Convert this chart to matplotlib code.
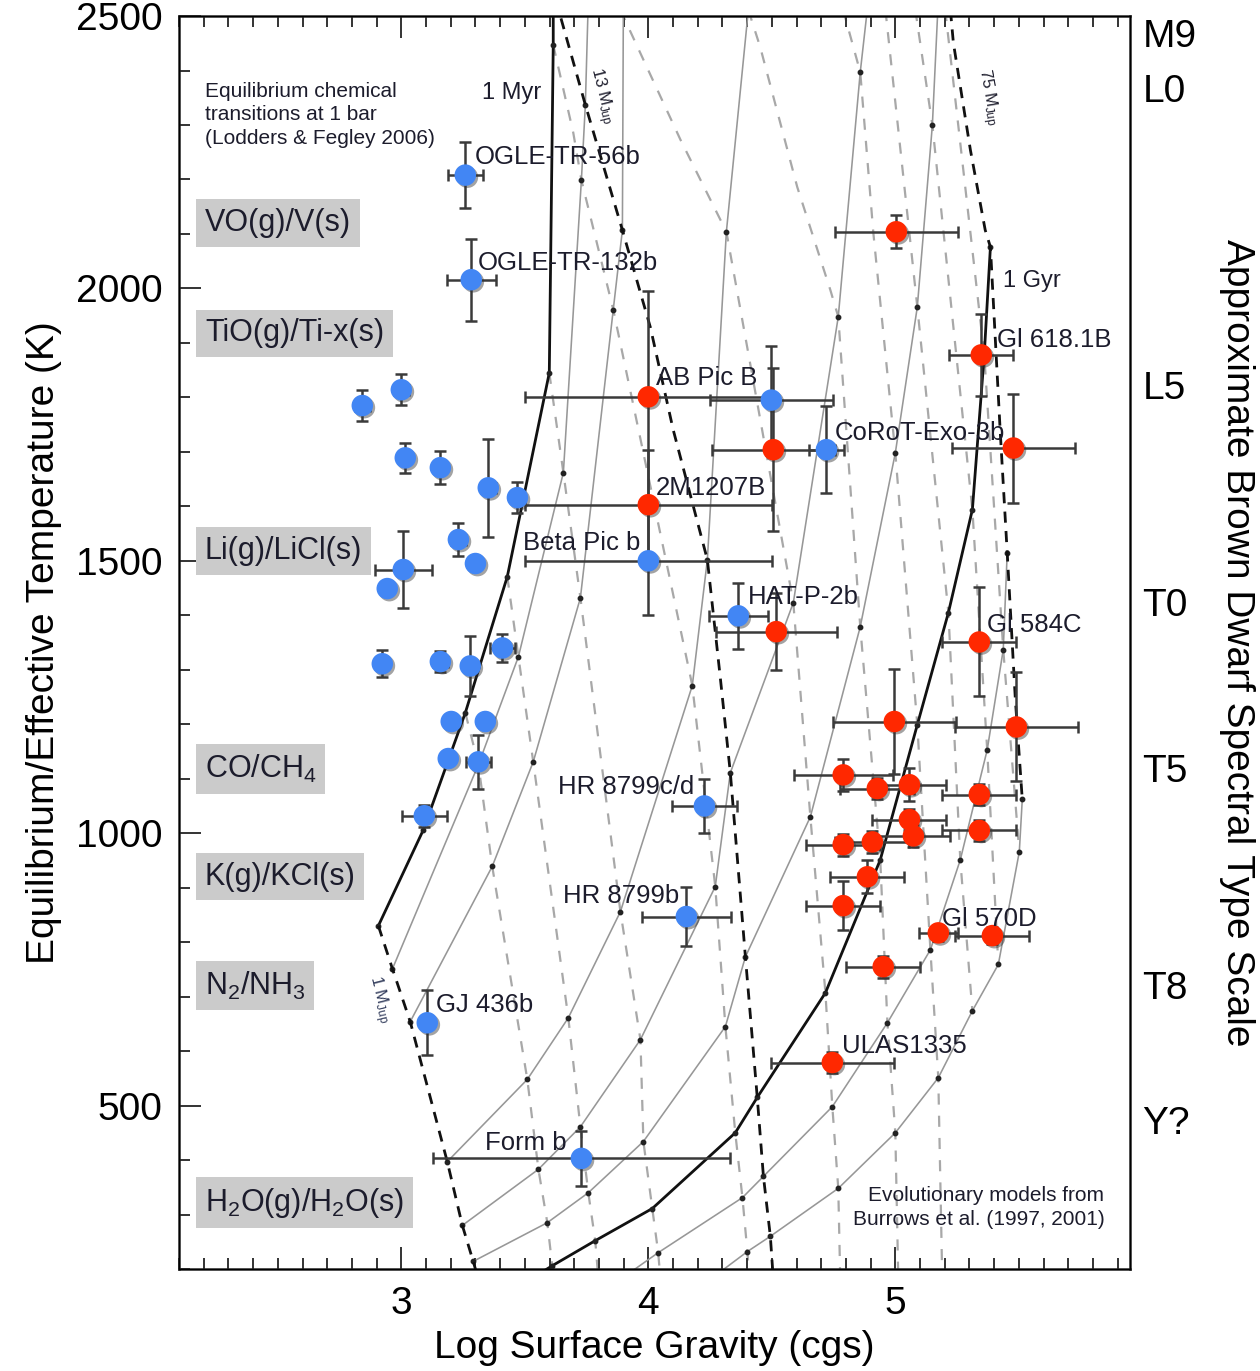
import numpy as np
import matplotlib.pyplot as plt
from matplotlib import patheffects as pe
from matplotlib.ticker import MultipleLocator

plt.rcParams['font.family'] = ['Liberation Sans', 'DejaVu Sans']
plt.rcParams['mathtext.fontset'] = 'custom'
plt.rcParams['mathtext.rm'] = 'Liberation Sans'
plt.rcParams['mathtext.it'] = 'Liberation Sans:italic'

# ---------------- evolutionary grid (log g, Teff) ----------------
# isochrones, youngest (1 Myr) to oldest; vertices sit on the mass tracks
iso_1myr = [(3.615, 2530), (3.615, 2447), (3.599, 1845), (3.429, 1471), (3.259, 1221), (3.089, 1006), (2.907, 830)]
iso_b = [(3.757, 2530), (3.745, 2337), (3.729, 2199), (3.656, 1662), (3.474, 1324), (3.312, 1126), (2.964, 751)]
iso_c = [(3.899, 2530), (3.895, 2107), (3.858, 1961), (3.725, 1432), (3.534, 1131), (3.368, 939), (3.036, 654)]
iso_d = [(4.409, 2530), (4.316, 2104), (4.239, 1502), (4.178, 1271), (3.887, 856), (3.676, 661), (3.510, 548),
         (3.186, 397)]
iso_e = [(4.891, 2530), (4.858, 2397), (4.769, 1948), (4.587, 1423), (4.332, 1111), (4.271, 902), (3.968, 621),
         (3.725, 461), (3.555, 383), (3.247, 280)]
iso_f = [(5.174, 2530), (5.150, 2300), (5.089, 1966), (5.000, 1698), (4.858, 1379), (4.656, 1030), (4.393, 773),
         (4.312, 645), (3.980, 434), (3.757, 340), (3.591, 285), (3.291, 214)]
iso_1gyr = [(5.385, 2076), (5.360, 1878), (5.312, 1594), (5.215, 1405), (5.089, 1199), (4.939, 951), (4.717, 707),
            (4.441, 515), (4.352, 450), (4.016, 311), (3.785, 252), (3.611, 206), (3.522, 181)]
iso_g = [(5.453, 1515), (5.437, 1337), (5.372, 1153), (5.263, 951), (5.142, 786), (4.968, 652), (4.745, 498),
         (4.466, 370), (4.381, 331), (4.040, 230), (3.887, 181)]
iso_h = [(5.514, 1062), (5.502, 966), (5.417, 759), (5.312, 674), (5.174, 551), (5.000, 450), (4.769, 348),
         (4.494, 260), (4.401, 232), (4.251, 181)]

# mass tracks (bold: 1, 13 and 75 M_Jup)
trk_1mj = [(2.907, 830), (2.964, 751), (3.036, 654), (3.186, 397), (3.247, 280), (3.291, 214), (3.312, 181)]
trk_13mj = [(3.625, 2530), (3.745, 2337), (3.895, 2107), (4.008, 1929), (4.101, 1740), (4.239, 1502), (4.291, 1287),
            (4.332, 1111), (4.393, 773), (4.441, 515), (4.466, 370), (4.494, 260), (4.506, 181)]
trk_75mj = [(5.223, 2511), (5.235, 2451), (5.304, 2254), (5.364, 2107), (5.385, 2076), (5.425, 1735), (5.453, 1515),
            (5.486, 1245), (5.514, 1062)]
trk_gray = [
    [(3.259, 1221), (3.312, 1126), (3.368, 939), (3.510, 548), (3.555, 383), (3.591, 285), (3.611, 206), (3.615, 181)],
    [(3.429, 1471), (3.474, 1324), (3.534, 1131), (3.676, 661), (3.725, 461), (3.757, 340), (3.785, 252), (3.798, 181)],
    [(3.599, 1845), (3.656, 1662), (3.725, 1432), (3.887, 856), (3.968, 621), (3.980, 434), (4.016, 311), (4.040, 230),
     (4.049, 181)],
    [(3.615, 2447), (3.696, 2286), (3.729, 2199), (3.858, 1961), (4.178, 1271), (4.271, 902), (4.312, 645),
     (4.352, 450), (4.381, 331), (4.401, 232), (4.409, 181)],
    [(3.887, 2511), (4.130, 2273), (4.316, 2104), (4.587, 1423), (4.656, 1030), (4.717, 707), (4.745, 498),
     (4.769, 348), (4.777, 181)],
    [(4.405, 2511), (4.453, 2443), (4.603, 2186), (4.737, 1997), (4.769, 1948), (4.858, 1379), (4.939, 951),
     (4.968, 652), (5.000, 450), (5.012, 181)],
    [(4.789, 2511), (4.858, 2397), (4.911, 2102), (5.000, 1698), (5.089, 1199), (5.142, 786), (5.174, 551),
     (5.190, 181)],
    [(4.960, 2511), (5.089, 1966), (5.215, 1405), (5.263, 951), (5.312, 674)],
    [(5.081, 2511), (5.150, 2300), (5.312, 1594), (5.372, 1153), (5.417, 759)],
    [(5.202, 2511), (5.360, 1878), (5.437, 1337), (5.502, 966)],
]

# ---------------- planets and brown dwarfs ----------------
blue_x = [2.842, 3.000, 3.016, 3.158, 3.352, 3.470, 3.231, 3.300, 3.008, 2.943, 2.923, 3.158, 3.279, 3.409,
          3.202, 3.340, 3.190, 3.312, 3.093, 3.105, 3.729, 4.154, 4.227, 4.364, 4.000, 4.498, 4.721, 3.259, 3.283]
blue_y = [1785, 1814, 1689, 1671, 1634, 1616, 1539, 1495, 1484, 1449, 1311, 1315, 1307, 1340,
          1205, 1205, 1137, 1131, 1032, 652, 403, 847, 1050, 1399, 1500, 1795, 1704, 2208, 2016]
blue_xerr = [0.03, 0.03, 0.0, 0.0, 0.03, 0.0, 0.03, 0.0, 0.115, 0.0, 0.0, 0.03, 0.0, 0.05,
             0.0, 0.0, 0.0, 0.05, 0.09, 0.0, 0.6, 0.18, 0.13, 0.12, 0.5, 0.25, 0.07, 0.07, 0.1]
blue_yerr = [28, 28, 28, 30, 90, 28, 30, 0, 70, 0, 25, 20, 55, 25,
             0, 0, 0, 50, 20, 60, 50, 55, 50, 60, 100, 100, 80, 60, 75]

red_x = [5.004, 5.348, 4.000, 4.000, 4.506, 5.478, 5.340, 4.518, 4.996, 5.490, 4.789, 4.927, 5.057, 5.340,
         5.057, 5.073, 5.340, 4.789, 4.907, 4.887, 4.789, 5.174, 5.393, 4.951, 4.745]
red_y = [2104, 1878, 1801, 1603, 1704, 1707, 1351, 1370, 1205, 1195, 1107, 1082, 1089, 1071,
         1025, 995, 1005, 979, 984, 920, 867, 817, 812, 755, 579]
red_xerr = [0.25, 0.13, 0.5, 0.5, 0.25, 0.25, 0.15, 0.245, 0.25, 0.25, 0.2, 0.15, 0.15, 0.15,
            0.15, 0.15, 0.15, 0.15, 0.15, 0.15, 0.15, 0.08, 0.15, 0.15, 0.25]
red_yerr = [30, 75, 195, 100, 150, 100, 100, 70, 96, 100, 30, 20, 30, 20,
            20, 20, 20, 20, 20, 30, 45, 15, 15, 20, 20]

obj_names = ['OGLE-TR-56b', 'OGLE-TR-132b', 'AB Pic B', 'CoRoT-Exo-3b', '2M1207B', 'Beta Pic b', 'HAT-P-2b',
             'Gl 618.1B', 'Gl 584C', 'HR 8799c/d', 'HR 8799b', 'Gl 570D', 'GJ 436b', 'ULAS1335', 'Form b']
name_x = [3.296, 3.308, 4.032, 4.753, 4.032, 3.494, 4.401, 5.413, 5.372, 3.636, 3.656, 5.190, 3.142, 4.785, 3.340]
name_y = [2241, 2047, 1836, 1735, 1634, 1533, 1434, 1906, 1383, 1084, 884, 843, 684, 610, 432]

# condensation boundaries
chem_labels = ['VO(g)/V(s)', 'TiO(g)/Ti-x(s)', 'Li(g)/LiCl(s)', 'CO/CH$_4$', 'K(g)/KCl(s)',
               'N$_2$/NH$_3$', 'H$_2$O(g)/H$_2$O(s)']
chem_y = [2120, 1918, 1518, 1118, 920, 720, 322]

spt_labels = ['M9', 'L0', 'L5', 'T0', 'T5', 'T8', 'Y?']
spt_teff = [2469, 2368, 1823, 1425, 1120, 722, 474]

# ---------------- figure ----------------
fig = plt.figure(figsize=(12.6, 13.71), dpi=100)
ax = fig.add_axes([0.1421, 0.0744, 0.7547, 0.9139])
ax.set_xlim(2.10, 5.95)
ax.set_ylim(200, 2500)

gray = '#979797'
node = dict(marker='o', ms=3.2, mfc='#222222', mec='#222222')
for iso in [iso_b, iso_c, iso_d, iso_e, iso_f, iso_g, iso_h]:
    xs, ys = zip(*iso)
    ax.plot(xs, ys, color=gray, lw=1.15, zorder=2, **node)
for trk in trk_gray:
    xs, ys = zip(*trk)
    ax.plot(xs, ys, color='#a8a8a8', lw=1.6, dashes=(5, 5), zorder=1)
for iso in [iso_1myr, iso_1gyr]:
    xs, ys = zip(*iso)
    ax.plot(xs, ys, color='#111111', lw=2.0, zorder=3, **node)
for trk in [trk_1mj, trk_13mj, trk_75mj]:
    xs, ys = zip(*trk)
    ax.plot(xs, ys, color='#111111', lw=2.0, dashes=(4, 3), zorder=3)

shadow = [pe.SimplePatchShadow(offset=(1.5, -1.5), shadow_rgbFace='#333333', alpha=0.45), pe.Normal()]
eb = dict(fmt='none', ecolor='#3a3a3a', elinewidth=1.8, capsize=4.5, capthick=1.8, zorder=4)
ax.errorbar(blue_x, blue_y, xerr=blue_xerr, yerr=blue_yerr, **eb)
ax.errorbar(red_x, red_y, xerr=red_xerr, yerr=red_yerr, **eb)
ax.plot(blue_x, blue_y, 'o', ms=15.5, mfc='#4286f4', mec='none', zorder=5, path_effects=shadow)
ax.plot(red_x, red_y, 'o', ms=15.5, mfc='#ff2800', mec='none', zorder=5, path_effects=shadow)

txt = '#1c1c2c'
for name, x, y in zip(obj_names, name_x, name_y):
    ax.text(x, y, name, fontsize=18.5, color=txt, ha='left', va='center', zorder=6)

for lab, y in zip(chem_labels, chem_y):
    ax.text(2.205, y, lab, fontsize=22, color=txt, ha='left', va='center', zorder=6,
            bbox=dict(boxstyle='square,pad=0.28', fc='#cbcbcb', ec='none'))

ax.text(2.205, 2379, 'Equilibrium chemical\ntransitions at 1 bar\n(Lodders & Fegley 2006)',
        fontsize=15, color=txt, ha='left', va='top', linespacing=1.3)
ax.text(5.846, 313, 'Evolutionary models from\nBurrows et al. (1997, 2001)',
        fontsize=15, color=txt, ha='right', va='center', multialignment='right', linespacing=1.3)
ax.text(3.328, 2359, '1 Myr', fontsize=17, color=txt, ha='left', va='center')
ax.text(5.437, 2014, '1 Gyr', fontsize=17, color=txt, ha='left', va='center')
ax.text(3.806, 2353, r'13 M$_{\rm Jup}$', fontsize=12, color=txt, rotation=-76, ha='center', va='center')
ax.text(5.372, 2351, r'75 M$_{\rm Jup}$', fontsize=12, color=txt, rotation=-80, ha='center', va='center')
ax.text(2.907, 695, r'1 M$_{\rm Jup}$', fontsize=12, color='#303a5a', rotation=-76, ha='center', va='center')

ax.xaxis.set_major_locator(MultipleLocator(1))
ax.xaxis.set_minor_locator(MultipleLocator(0.1))
ax.yaxis.set_major_locator(MultipleLocator(500))
ax.yaxis.set_minor_locator(MultipleLocator(100))
ax.tick_params(which='both', direction='in', top=True, right=True, width=1.4, color='#333333',
               labelsize=28, pad=12)
ax.tick_params(which='major', length=16)
ax.tick_params(which='minor', length=8)
for s in ax.spines.values():
    s.set_linewidth(1.8)
    s.set_color('#222222')
ax.set_xlabel('Log Surface Gravity (cgs)', fontsize=28, labelpad=6)
ax.set_ylabel('Equilibrium/Effective Temperature (K)', fontsize=28, labelpad=10)

ax2 = ax.twinx()
ax2.set_ylim(ax.get_ylim())
ax2.set_yticks(spt_teff)
ax2.set_yticklabels(spt_labels)
ax2.tick_params(axis='y', length=0, labelsize=28, pad=9)
ax2.set_ylabel('Approximate Brown Dwarf Spectral Type Scale', fontsize=28, rotation=-90, labelpad=42)

fig.savefig('out.png', dpi=100)
